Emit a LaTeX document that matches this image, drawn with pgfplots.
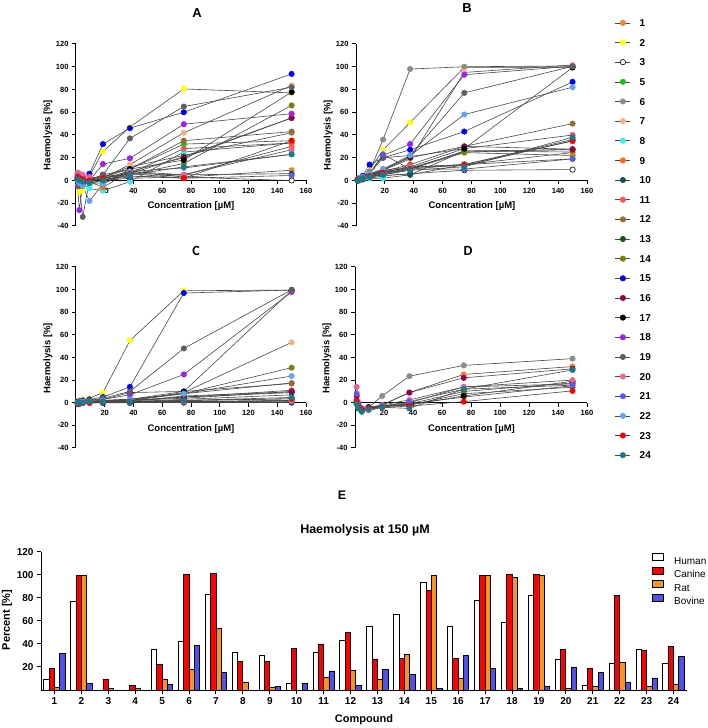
\documentclass[border=0pt]{standalone}
\usepackage{fontspec}
\setmainfont{Liberation Sans}
\newfontfamily\calibri{Carlito}
\usepackage{pgfplots}
\usepackage{pgfplotstable}
\pgfplotsset{compat=1.18}

\definecolor{c1}{HTML}{F58220}
\definecolor{c2}{HTML}{FFFF00}
\definecolor{c5}{HTML}{1DC21D}
\definecolor{c6}{HTML}{8C8C8C}
\definecolor{c7}{HTML}{F4B183}
\definecolor{c8}{HTML}{33F0F0}
\definecolor{c9}{HTML}{FF6A13}
\definecolor{c10}{HTML}{12505E}
\definecolor{c11}{HTML}{FF5050}
\definecolor{c12}{HTML}{9A6A2F}
\definecolor{c13}{HTML}{0E5A0E}
\definecolor{c14}{HTML}{7F7F00}
\definecolor{c15}{HTML}{0000FF}
\definecolor{c16}{HTML}{99004C}
\definecolor{c17}{HTML}{000000}
\definecolor{c18}{HTML}{A020F0}
\definecolor{c19}{HTML}{5F5F5F}
\definecolor{c20}{HTML}{F0648C}
\definecolor{c21}{HTML}{5A5AF0}
\definecolor{c22}{HTML}{5AA8F5}
\definecolor{c23}{HTML}{FF0000}
\definecolor{c24}{HTML}{1A7A8A}
\definecolor{barred}{HTML}{FF0000}
\definecolor{barorange}{HTML}{F7941D}
\definecolor{barblue}{HTML}{5050F0}

% Human
\pgfplotstableread{
c s1 s2 s3 s5 s6 s7 s8 s9 s10 s11 s12 s13 s14 s15 s16 s17 s18 s19 s20 s21 s22 s23 s24
1.17 3 -5 1 0 1 5 2 4 1 2 2 0 1 6 1 2 -5 1 7 4 0 3 1
2.34 2 -10 0 -1 0 4 -1 2 0 1 1 -1 0 4 0 1 -26 -5 6 2 -2 2 0
4.69 0 -8 -1 -2 -2 1 -3 0 -1 0 0 -1 0 2 -1 0 -3 -32 5 1 -5 1 -1
9.375 -2 4 -1 -3 -1 0 -7 -1 0 0 1 -1 1 6 0 1 0 0 3 0 -18 0 -2
18.75 -1 25.5 0 -3 3 2 -9 -6 1 2 3 2 4 32 2 5 14.5 5 2 1 -3 2 0
37.5 8 47 2 10 12 14 -1 8 3 6 10 6 5 46 8 10 19.5 37 6 4 8 6 5
75 3 80.5 3 32 22 42 25 5 5 28 35 21 15 60 20 18 49.5 65 5 2 11 2 12
150 9 77 0 35 42 83.5 33 30 6 33 43 55 66 93.7 55 77.7 58.7 82 27 4.4 23 35 23
}\tA
% Canine
\pgfplotstableread{
c s1 s2 s3 s5 s6 s7 s8 s9 s10 s11 s12 s13 s14 s15 s16 s17 s18 s19 s20 s21 s22 s23 s24
1.17 1 1 0 0 1 1 0 1 0 1 1 0 0 1 1 1 1 1 1 1 1 1 0
2.34 2 2 0 1 2 2 0 2 1 1 1 1 1 2 1 2 2 2 1 2 2 1 1
4.69 3 3 1 2 4 3 1 3 1 2 2 2 2 4 2 3 3 3 2 3 3 2 2
9.375 6 9 2 3 8 5 2 5 3 4 4 3 3 14 4 5 6 6 4 6 6 4 3
18.75 9 27 4 5 36 9 2 8 6 7 8 6 6 20 10 9 22 20 7 23 10 7 5
37.5 12 51 6 10 98 19 5 11 5 12 14 10 11 27 20 21 32 22 12 10 22 10 9
75 14 99.5 9 24.5 100 95 26 14 14 28 30 26 25 43 30 28 93 77 13 10 58 14 12
150 19 99.6 9.6 22 100.7 101.6 25 24.5 36 40 50 27 27.5 86.7 27.5 99.3 100.4 100.4 35 19 82 34.7 38
}\tB
% Rat
\pgfplotstableread{
c s1 s2 s3 s5 s6 s7 s8 s9 s10 s11 s12 s13 s14 s15 s16 s17 s18 s19 s20 s21 s22 s23 s24
1.17 0 1 0 0 0 0 0 -1 0 -1 0 0 0 1 0 0 0 0 0 0 0 -1 0
2.34 0 2 0 1 0 1 0 -1 0 0 0 0 1 1 0 1 1 1 0 0 0 -1 0
4.69 0 3 0 1 1 1 0 0 0 0 1 0 1 2 0 1 1 1 0 0 1 0 0
9.375 0 4 0 1 1 1 1 0 0 1 1 1 1 3 1 2 2 2 0 1 1 0 1
18.75 0 9 0 2 1 2 1 1 0 1 2 1 2 5 1 3 3 4 1 1 2 1 1
37.5 1 55 0 1 2 2 1 1 0 2 3 2 3 14 2 9 7 10 1 1 3 1 1
75 1 99 1 6 8 9 3 1 0 5 10 5 8 97 4 10 25 48 1 2 8 2 2
150 2 99.6 1 9.6 17.5 53.4 7 2 0 11 17 9 31 99.6 10 99.3 98 99.8 1.5 3.5 23.6 3.5 4.7
}\tC
% Bovine
\pgfplotstableread{
c s1 s6 s7 s11 s13 s14 s16 s17 s20 s21 s23 s24
1.17 2 0 1 0 -1 0 6 1 14 8 2 -1
2.34 -3 -4 -3 -4 -5 -4 -2 -3 0 -1 -3 -5
4.69 -6 -6 -6 -6 -7 -6 -6 -6 -5 -5 -6 -8
9.375 -6 -4 -7 -5 -5 -5 -4 -4 -5 -5 -5 -6
18.75 -2 6 -4 -3 -3 -3 -2 -3 -2 -3 -4 -4
37.5 9 23.5 -1 0 -1 -2 9 -2 2.5 1 -3 -5
75 25 33 5 14 10 8 22 6 14 12 1 12
150 32 39 15 16.6 17.5 13.7 30 19 20 15.5 10.5 29
}\tD
% Haemolysis at 150 uM
\pgfplotstableread{
c human canine rat bovine
1 9 19 2 32
2 77 99.6 99.6 6
3 0 9.6 1 0
4 0 4 1 0
5 35 22 9.6 5
6 42 100.7 17.5 39
7 83.5 101.6 53.4 15
8 33 25 7 0
9 30 24.5 2 3
10 6 36 0 5.5
11 33 40 11 16.6
12 43 50 17 4
13 55 27 9 17.5
14 66 27.5 31 13.7
15 93.7 86.7 99.6 1
16 55 27.5 10 30
17 77.7 99.3 99.3 19
18 58.7 100.4 98 1
19 82 100.4 99.8 3
20 27 35 1.5 20
21 4.4 19 3.5 15.5
22 23 82 23.6 7
23 35 34.7 3.5 10.5
24 23 38 4.7 29
}\tE

\newcommand{\ser}[3]{\addplot[mark options={fill=#2,draw=#2}] table[x=c,y=s#1]{#3};}

\pgfplotsset{
  panel/.style={
    scale only axis, width=230pt, height=182pt,
    xmin=0, xmax=160, ymin=-40, ymax=120,
    axis x line=middle, axis y line=left,
    axis line style={-, line width=1pt},
    hide obscured x ticks=false, hide obscured y ticks=false,
    xtick={20,40,...,160}, ytick={-40,-20,...,120},
    tick align=outside, major tick length=4pt,
    tick style={line width=1pt, black},
    ticklabel style={font=\bfseries\fontsize{7.5}{9}\selectfont},
    /pgf/number format/assume math mode=true,
    clip=false,
    xlabel={Concentration [µM]}, ylabel={Haemolysis [\%]},
    label style={font=\bfseries\fontsize{9.5}{11}\selectfont},
    every axis plot/.append style={draw=black!72, line width=0.6pt, mark=*, mark size=2.7pt},
  }
}

\begin{document}
\begin{tikzpicture}
\path[use as bounding box] (0,0) rectangle (708pt,728pt);

% panel letters
\node[font=\bfseries\fontsize{13}{15}\selectfont] at (197pt,715pt) {A};
\node[font=\bfseries\fontsize{13}{15}\selectfont] at (467pt,720pt) {B};
\node[font=\calibri\bfseries\fontsize{14}{16}\selectfont] at (196pt,477pt) {C};
\node[font=\calibri\bfseries\fontsize{14}{16}\selectfont] at (468pt,477pt) {D};
\node[font=\bfseries\fontsize{12.5}{14}\selectfont] at (342pt,233pt) {E};

% ---------- A (Human) ----------
\begin{axis}[panel, at={(76pt,502pt)}, anchor=south west,
  xlabel style={at={(axis description cs:0.5,0.11)}, anchor=center},
  ylabel style={at={(axis description cs:-0.122,0.5)}, anchor=center},
  legend cell align=left,
  legend style={at={(axis description cs:2.343,1.137)}, anchor=north west,
    draw=none, fill=none, inner sep=0pt, row sep=12.45pt, column sep=9pt,
    font=\bfseries\fontsize{10}{12}\selectfont,
    nodes={inner sep=0pt, text height=7.2pt, text depth=0pt}},
  legend image code/.code={\draw[mark repeat=2, mark phase=2, #1] plot coordinates {(0pt,0pt) (7.5pt,0pt) (15pt,0pt)};},
]
\ser{1}{c1}{\tA}\addlegendentry{1}
\ser{2}{c2}{\tA}\addlegendentry{2}
\addplot[mark options={fill=white,draw=black}] table[x=c,y=s3]{\tA};\addlegendentry{3}
\ser{5}{c5}{\tA}\addlegendentry{5}
\ser{6}{c6}{\tA}\addlegendentry{6}
\ser{7}{c7}{\tA}\addlegendentry{7}
\ser{8}{c8}{\tA}\addlegendentry{8}
\ser{9}{c9}{\tA}\addlegendentry{9}
\ser{10}{c10}{\tA}\addlegendentry{10}
\ser{11}{c11}{\tA}\addlegendentry{11}
\ser{12}{c12}{\tA}\addlegendentry{12}
\ser{13}{c13}{\tA}\addlegendentry{13}
\ser{14}{c14}{\tA}\addlegendentry{14}
\ser{15}{c15}{\tA}\addlegendentry{15}
\ser{16}{c16}{\tA}\addlegendentry{16}
\ser{17}{c17}{\tA}\addlegendentry{17}
\ser{18}{c18}{\tA}\addlegendentry{18}
\ser{19}{c19}{\tA}\addlegendentry{19}
\ser{20}{c20}{\tA}\addlegendentry{20}
\ser{21}{c21}{\tA}\addlegendentry{21}
\ser{22}{c22}{\tA}\addlegendentry{22}
\ser{23}{c23}{\tA}\addlegendentry{23}
\ser{24}{c24}{\tA}\addlegendentry{24}
\end{axis}

% ---------- B (Canine) ----------
\begin{axis}[panel, at={(356pt,502pt)}, anchor=south west, width=231pt,
  xlabel style={at={(axis description cs:0.502,0.11)}, anchor=center},
  ylabel style={at={(axis description cs:-0.121,0.5)}, anchor=center},
]
\ser{1}{c1}{\tB}
\ser{2}{c2}{\tB}
\addplot[mark options={fill=white,draw=black}] table[x=c,y=s3]{\tB};
\ser{5}{c5}{\tB}
\ser{6}{c6}{\tB}
\ser{7}{c7}{\tB}
\ser{8}{c8}{\tB}
\ser{9}{c9}{\tB}
\ser{10}{c10}{\tB}
\ser{11}{c11}{\tB}
\ser{12}{c12}{\tB}
\ser{13}{c13}{\tB}
\ser{14}{c14}{\tB}
\ser{15}{c15}{\tB}
\ser{16}{c16}{\tB}
\ser{17}{c17}{\tB}
\ser{18}{c18}{\tB}
\ser{19}{c19}{\tB}
\ser{20}{c20}{\tB}
\ser{21}{c21}{\tB}
\ser{22}{c22}{\tB}
\ser{23}{c23}{\tB}
\ser{24}{c24}{\tB}
\end{axis}

% ---------- C (Rat) ----------
\begin{axis}[panel, at={(76pt,280pt)}, anchor=south west, height=181pt,
  xlabel style={at={(axis description cs:0.5,0.105)}, anchor=center},
  ylabel style={at={(axis description cs:-0.122,0.497)}, anchor=center},
]
\ser{1}{c1}{\tC}
\ser{2}{c2}{\tC}
\addplot[mark options={fill=white,draw=black}] table[x=c,y=s3]{\tC};
\ser{5}{c5}{\tC}
\ser{6}{c6}{\tC}
\ser{7}{c7}{\tC}
\ser{8}{c8}{\tC}
\ser{9}{c9}{\tC}
\ser{10}{c10}{\tC}
\ser{11}{c11}{\tC}
\ser{12}{c12}{\tC}
\ser{13}{c13}{\tC}
\ser{14}{c14}{\tC}
\ser{15}{c15}{\tC}
\ser{16}{c16}{\tC}
\ser{17}{c17}{\tC}
\ser{18}{c18}{\tC}
\ser{19}{c19}{\tC}
\ser{20}{c20}{\tC}
\ser{21}{c21}{\tC}
\ser{22}{c22}{\tC}
\ser{23}{c23}{\tC}
\ser{24}{c24}{\tC}
\end{axis}

% ---------- D (Bovine) ----------
\begin{axis}[panel, at={(355pt,280pt)}, anchor=south west, width=232pt, height=181pt,
  xlabel style={at={(axis description cs:0.502,0.105)}, anchor=center},
  ylabel style={at={(axis description cs:-0.121,0.497)}, anchor=center},
]
\ser{1}{c1}{\tD}
\ser{6}{c6}{\tD}
\ser{7}{c7}{\tD}
\ser{11}{c11}{\tD}
\ser{13}{c13}{\tD}
\ser{14}{c14}{\tD}
\ser{16}{c16}{\tD}
\ser{17}{c17}{\tD}
\ser{20}{c20}{\tD}
\ser{21}{c21}{\tD}
\ser{23}{c23}{\tD}
\ser{24}{c24}{\tD}
\end{axis}

% ---------- E ----------
\node[font=\bfseries\fontsize{12.5}{14}\selectfont] at (365pt,198pt) {Haemolysis at 150 µM};
\begin{axis}[at={(41pt,38pt)}, anchor=south west,
  scale only axis, width=646pt, height=138pt,
  xmin=0.5, xmax=24.5, ymin=0, ymax=120,
  axis x line=bottom, axis y line=left,
  axis line style={-, line width=1pt},
  ybar=0pt, bar width=5.33pt,
  xtick={1,...,24}, ytick={20,40,...,120},
  tick align=outside, major tick length=4pt,
  tick style={line width=1pt, black},
  ticklabel style={font=\bfseries\fontsize{10}{12}\selectfont},
  /pgf/number format/assume math mode=true,
  xlabel={Compound}, ylabel={Percent [\%]},
  label style={font=\bfseries\fontsize{11}{13}\selectfont},
  xlabel style={at={(axis description cs:0.5,-0.217)}, anchor=center},
  ylabel style={at={(axis description cs:-0.0526,0.507)}, anchor=center},
  legend cell align=left,
  legend style={at={(axis description cs:0.946,0.993)}, anchor=north west,
    draw=none, fill=none, inner sep=0pt, row sep=2.6pt, column sep=10pt,
    font=\fontsize{10}{12}\selectfont,
    nodes={inner sep=0pt, text height=7pt, text depth=0pt}},
  legend image code/.code={\draw[#1, draw=black, line width=0.8pt] (0pt,0pt) rectangle (11pt,7pt);},
]
\addplot[fill=white, draw=black, line width=0.8pt] table[x=c,y=human]{\tE};\addlegendentry{Human}
\addplot[fill=barred, draw=black, line width=0.8pt] table[x=c,y=canine]{\tE};\addlegendentry{Canine}
\addplot[fill=barorange, draw=black, line width=0.8pt] table[x=c,y=rat]{\tE};\addlegendentry{Rat}
\addplot[fill=barblue, draw=black, line width=0.8pt] table[x=c,y=bovine]{\tE};\addlegendentry{Bovine}
\end{axis}
\end{tikzpicture}
\end{document}
